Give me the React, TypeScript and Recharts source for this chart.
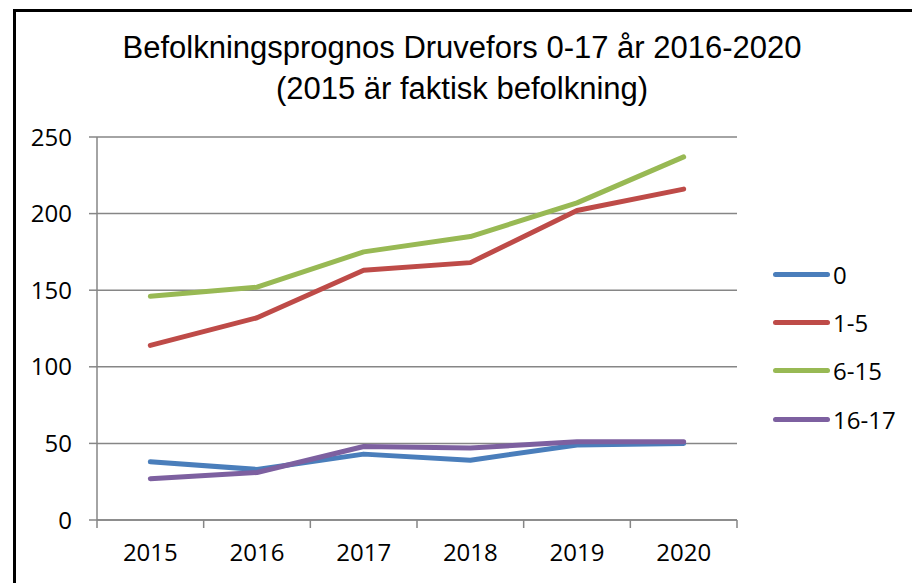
import React from "react";
import { CartesianGrid, Legend, Line, LineChart, XAxis, YAxis } from "recharts";

const YEARS = [2015, 2016, 2017, 2018, 2019, 2020];
const AGE_0 = [38, 33, 43, 39, 49, 50];
const AGE_1_5 = [114, 132, 163, 168, 202, 216];
const AGE_6_15 = [146, 152, 175, 185, 207, 237];
const AGE_16_17 = [27, 31, 48, 47, 51, 51];
const Y_TICKS = [0, 50, 100, 150, 200, 250];
// gränser mellan kategorierna (Excel sätter strecken mellan åren)
const X_BOUNDS = [2014.5, 2015.5, 2016.5, 2017.5, 2018.5, 2019.5, 2020.5];

const SERIES = [
  { key: "0", values: AGE_0, color: "#4A7EBB" },
  { key: "1-5", values: AGE_1_5, color: "#BE4B48" },
  { key: "6-15", values: AGE_6_15, color: "#98B954" },
  { key: "16-17", values: AGE_16_17, color: "#7D60A0" },
];

const data = YEARS.map((year, i) => {
  const row: Record<string, number> = { year };
  SERIES.forEach((s) => (row[s.key] = s.values[i]));
  return row;
});

const AXIS = "#868686";
const FONT = "'Open Sans', sans-serif";

const CHART_W = 904;
const Y_AXIS_W = 81;
const RIGHT = 33;
const LEGEND_W = 150;
const PLOT_W = CHART_W - Y_AXIS_W - RIGHT - LEGEND_W;
const HALF_BAND = PLOT_W / (YEARS.length * 2);

// etiketten hamnar mitt emellan två streck
function YearTick(props: any) {
  const { x, y, payload } = props;
  const year = payload.value + 0.5;
  if (!YEARS.includes(year)) return null;
  return (
    <text
      x={x + HALF_BAND}
      y={y}
      dy="0.71em"
      textAnchor="middle"
      fill="#000"
      fontSize={24}
      fontFamily={FONT}
    >
      {year}
    </text>
  );
}

function LegendBox() {
  return (
    <div style={{ fontFamily: FONT, fontSize: 24, color: "#000", width: LEGEND_W, height: 194 }}>
      {SERIES.map((s) => (
        <div key={s.key} style={{ height: 48.3, display: "flex", alignItems: "center" }}>
          <span
            style={{
              display: "inline-block",
              width: 57,
              height: 5,
              borderRadius: 3,
              background: s.color,
              marginRight: 3,
            }}
          />
          <span>{s.key}</span>
        </div>
      ))}
    </div>
  );
}

export default function App() {
  return (
    <div
      style={{
        position: "relative",
        marginLeft: 5,
        marginTop: 1,
        borderLeft: "3px solid #000",
        borderTop: "3px solid #000",
        width: CHART_W,
        height: 571,
        background: "#fff",
      }}
    >
      <div
        style={{
          position: "absolute",
          left: 0,
          top: 15,
          width: 892,
          textAlign: "center",
          fontFamily: "'Liberation Sans', Arial, sans-serif",
          fontSize: 31,
          lineHeight: "41px",
          color: "#000",
        }}
      >
        Befolkningsprognos Druvefors 0-17 år 2016-2020
        <br />
        (2015 är faktisk befolkning)
      </div>
      <LineChart
        width={CHART_W}
        height={571}
        data={data}
        margin={{ top: 125, right: RIGHT, bottom: 23, left: 0 }}
      >
        <CartesianGrid horizontal vertical={false} stroke={AXIS} strokeWidth={1.5} />
        <XAxis
          dataKey="year"
          type="number"
          domain={[2014.5, 2020.5]}
          allowDataOverflow
          ticks={X_BOUNDS}
          interval={0}
          axisLine={{ stroke: AXIS, strokeWidth: 1.5 }}
          tickLine={{ stroke: AXIS, strokeWidth: 1.5 }}
          tickSize={8}
          tickMargin={16}
          height={40}
          tick={<YearTick />}
        />
        <YAxis
          domain={[0, 250]}
          ticks={Y_TICKS}
          interval={0}
          width={Y_AXIS_W}
          axisLine={{ stroke: AXIS, strokeWidth: 1.5 }}
          tickLine={{ stroke: AXIS, strokeWidth: 1.5 }}
          tickSize={8}
          tickMargin={17}
          tick={{ fill: "#000", fontSize: 24, fontFamily: FONT }}
        />
        <Legend
          layout="vertical"
          align="right"
          verticalAlign="top"
          content={<LegendBox />}
          wrapperStyle={{ left: 757, top: 238, width: LEGEND_W, height: 194 }}
        />
        {SERIES.map((s) => (
          <Line
            key={s.key}
            type="linear"
            dataKey={s.key}
            stroke={s.color}
            strokeWidth={5}
            strokeLinecap="round"
            strokeLinejoin="round"
            dot={false}
            activeDot={false}
            isAnimationActive={false}
          />
        ))}
      </LineChart>
    </div>
  );
}
